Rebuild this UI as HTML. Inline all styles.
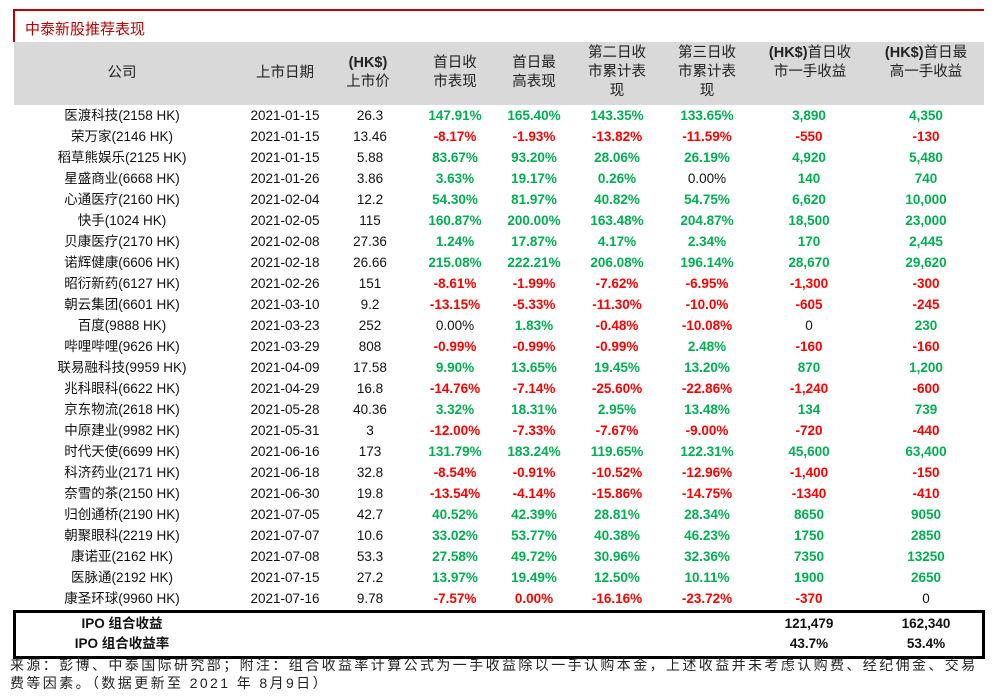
<!DOCTYPE html>
<html><head><meta charset="utf-8">
<style>
body{margin:0;width:998px;height:698px;background:#fff;position:relative;overflow:hidden;font-family:"Liberation Sans","Noto Sans CJK SC",sans-serif;color:#111}
.a{position:absolute}
.t{position:absolute;transform:translateX(-50%);white-space:nowrap;font-size:13.5px;line-height:16px;text-align:center}
.h{position:absolute;transform:translateX(-50%);text-align:center;font-size:14.5px;line-height:19px;color:#222;white-space:nowrap}
.g{color:#00b050;font-weight:bold}.r{color:#ff0000;font-weight:bold}.k{color:#111}
</style></head><body>
<div class="a" style="left:14px;top:9px;width:970px;height:2px;background:#c00000"></div>
<div class="a" style="left:13px;top:9px;width:2px;height:33px;background:#c00000"></div>
<div class="a" style="left:25px;top:18px;font-size:15px;color:#c00000">中泰新股推荐表现</div>
<div class="a" style="left:14px;top:42px;width:970px;height:63px;background:#d9d9d9"></div>
<div class="h" style="left:122px;top:64px">公司</div>
<div class="h" style="left:285px;top:64px">上市日期</div>
<div class="h" style="left:368px;top:54px"><b>(HK$)</b><br>上市价</div>
<div class="h" style="left:455px;top:54px">首日收<br>市表现</div>
<div class="h" style="left:534px;top:54px">首日最<br>高表现</div>
<div class="h" style="left:617px;top:44px">第二日收<br>市累计表<br>现</div>
<div class="h" style="left:707px;top:44px">第三日收<br>市累计表<br>现</div>
<div class="h" style="left:810px;top:44px"><b>(HK$)</b>首日收<br>市一手收益</div>
<div class="h" style="left:926px;top:44px"><b>(HK$)</b>首日最<br>高一手收益</div>
<div id="rows"></div>
<div class="a" style="left:13px;top:610px;width:966px;height:43px;border:3px solid #000"></div>
<div class="t" style="left:122px;top:616px;font-weight:bold">IPO 组合收益</div>
<div class="t" style="left:122px;top:636px;font-weight:bold">IPO 组合收益率</div>
<div class="t" style="left:809px;top:616px;font-weight:bold">121,479</div>
<div class="t" style="left:926px;top:616px;font-weight:bold">162,340</div>
<div class="t" style="left:809px;top:636px;font-weight:bold">43.7%</div>
<div class="t" style="left:926px;top:636px;font-weight:bold">53.4%</div>
<div class="a" style="left:10px;top:656px;font-size:14px;line-height:18px;color:#222;width:995px;letter-spacing:2.4px;white-space:nowrap">来源：彭博、中泰国际研究部；附注：组合收益率计算公式为一手收益除以一手认购本金，上述收益并未考虑认购费、经纪佣金、交易<br>费等因素。（数据更新至 2021 年 8月9日）</div>
<script>
const companies=["医渡科技(2158 HK)","荣万家(2146 HK)","稻草熊娱乐(2125 HK)","星盛商业(6668 HK)","心通医疗(2160 HK)","快手(1024 HK)","贝康医疗(2170 HK)","诺辉健康(6606 HK)","昭衍新药(6127 HK)","朝云集团(6601 HK)","百度(9888 HK)","哔哩哔哩(9626 HK)","联易融科技(9959 HK)","兆科眼科(6622 HK)","京东物流(2618 HK)","中原建业(9982 HK)","时代天使(6699 HK)","科济药业(2171 HK)","奈雪的茶(2150 HK)","归创通桥(2190 HK)","朝聚眼科(2219 HK)","康诺亚(2162 HK)","医脉通(2192 HK)","康圣环球(9960 HK)"];
const dates=["2021-01-15","2021-01-15","2021-01-15","2021-01-26","2021-02-04","2021-02-05","2021-02-08","2021-02-18","2021-02-26","2021-03-10","2021-03-23","2021-03-29","2021-04-09","2021-04-29","2021-05-28","2021-05-31","2021-06-16","2021-06-18","2021-06-30","2021-07-05","2021-07-07","2021-07-08","2021-07-15","2021-07-16"];
const prices=["26.3","13.46","5.88","3.86","12.2","115","27.36","26.66","151","9.2","252","808","17.58","16.8","40.36","3","173","32.8","19.8","42.7","10.6","53.3","27.2","9.78"];
const day1Close=["147.91%","-8.17%","83.67%","3.63%","54.30%","160.87%","1.24%","215.08%","-8.61%","-13.15%","0.00%","-0.99%","9.90%","-14.76%","3.32%","-12.00%","131.79%","-8.54%","-13.54%","40.52%","33.02%","27.58%","13.97%","-7.57%"];
const day1High=["165.40%","-1.93%","93.20%","19.17%","81.97%","200.00%","17.87%","222.21%","-1.99%","-5.33%","1.83%","-0.99%","13.65%","-7.14%","18.31%","-7.33%","183.24%","-0.91%","-4.14%","42.39%","53.77%","49.72%","19.49%","0.00%"];
const day2=["143.35%","-13.82%","28.06%","0.26%","40.82%","163.48%","4.17%","206.08%","-7.62%","-11.30%","-0.48%","-0.99%","19.45%","-25.60%","2.95%","-7.67%","119.65%","-10.52%","-15.86%","28.81%","40.38%","30.96%","12.50%","-16.16%"];
const day3=["133.65%","-11.59%","26.19%","0.00%","54.75%","204.87%","2.34%","196.14%","-6.95%","-10.0%","-10.08%","2.48%","13.20%","-22.86%","13.48%","-9.00%","122.31%","-12.96%","-14.75%","28.34%","46.23%","32.36%","10.11%","-23.72%"];
const lotClose=["3,890","-550","4,920","140","6,620","18,500","170","28,670","-1,300","-605","0","-160","870","-1,240","134","-720","45,600","-1,400","-1340","8650","1750","7350","1900","-370"];
const lotHigh=["4,350","-130","5,480","740","10,000","23,000","2,445","29,620","-300","-245","230","-160","1,200","-600","739","-440","63,400","-150","-410","9050","2850","13250","2650","0"];
const cols=[[companies,122,"company"],[dates,285,"date"],[prices,370,"price"],[day1Close,455,"day1-close"],[day1High,534,"day1-high"],[day2,617,"day2"],[day3,707,"day3"],[lotClose,809,"lot-close"],[lotHigh,926,"lot-high"]];
const root=document.getElementById('rows');
function cls(v,ci,ri){if(ci<3)return 'k';const n=parseFloat(v.replace(/,/g,''));if(ci==4&&ri==23)return 'r';return n>0?'g':n<0?'r':'k';}
companies.forEach((_,ri)=>{cols.forEach(([arr,x,nm],ci)=>{
const d=document.createElement('div');
d.className='t '+cls(arr[ri],ci,ri);
d.style.left=x+'px';d.style.top=(108+ri*21)+'px';
d.textContent=arr[ri];


root.appendChild(d);});});
</script>
</body></html>
